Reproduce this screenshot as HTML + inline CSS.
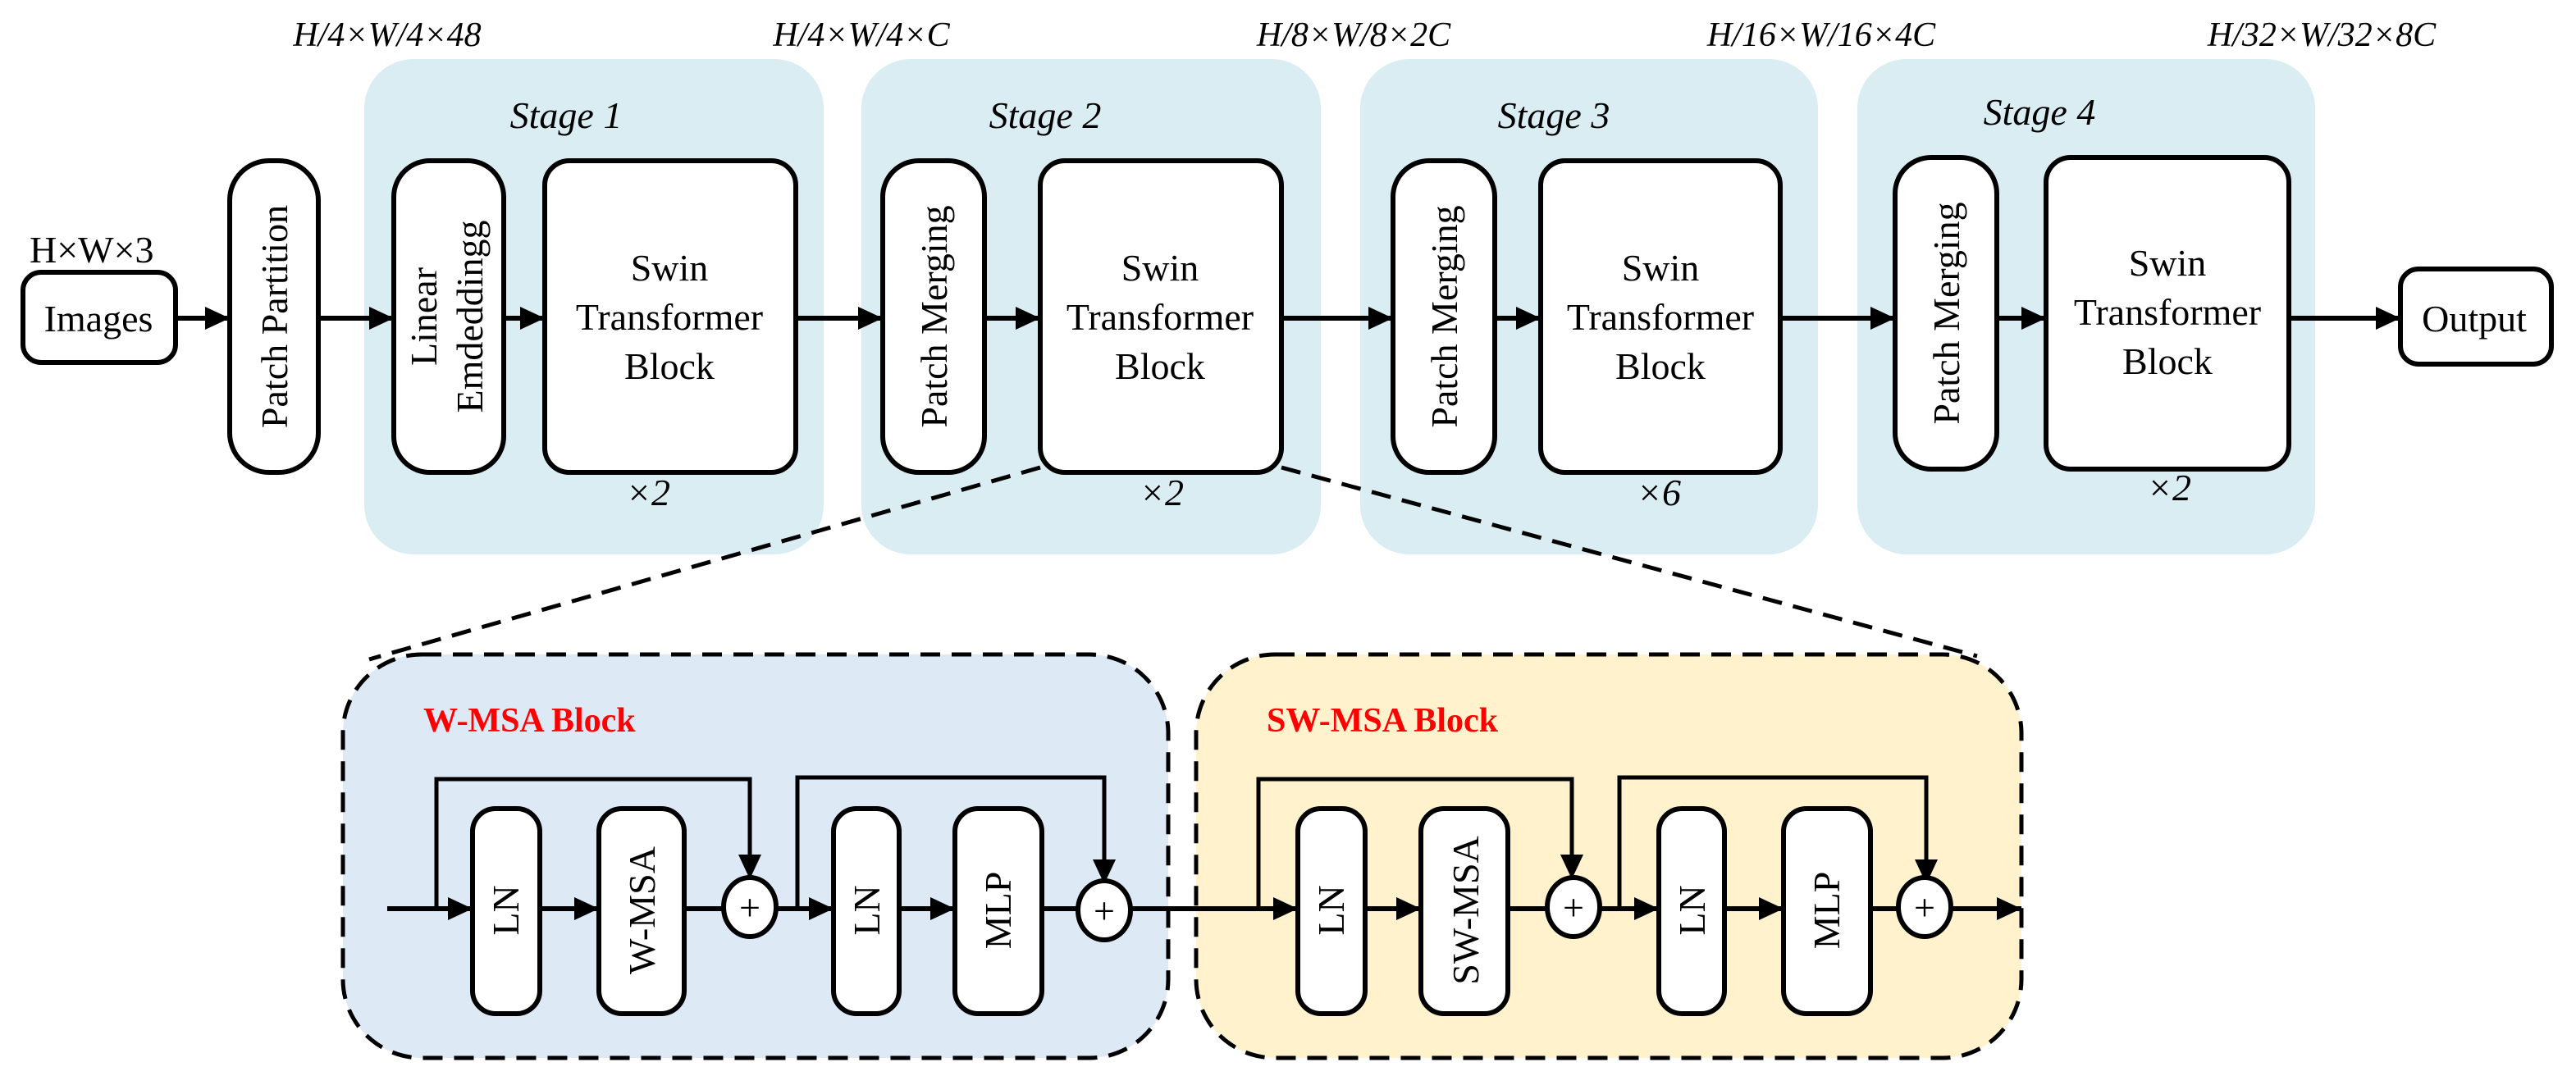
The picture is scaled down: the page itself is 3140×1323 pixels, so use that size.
<!DOCTYPE html>
<html><head><meta charset="utf-8"><style>
html,body{margin:0;padding:0;background:#fff;}
svg{display:block;}
svg text{font-family:"Liberation Serif","DejaVu Serif",serif !important;}
</style></head><body>
<svg width="3140" height="1323" viewBox="0 0 1570 661.5" xmlns="http://www.w3.org/2000/svg" font-family="'Liberation Serif', serif">
<defs>
<marker id="ah2" markerWidth="16" markerHeight="16" refX="15" refY="7" orient="auto" markerUnits="userSpaceOnUse">
<path d="M0,0 L15,7 L0,14 z" fill="#000"/></marker>
</defs>

<g font-size="21" font-style="italic" text-anchor="middle" font-family="'Liberation Serif', serif">
<text x="236" y="28">H/4×W/4×48</text>
<text x="525" y="28">H/4×W/4×C</text>
<text x="825" y="28">H/8×W/8×2C</text>
<text x="1110" y="28">H/16×W/16×4C</text>
<text x="1415" y="28">H/32×W/32×8C</text>
</g>

<g fill="#daedf3">
<rect x="222" y="36" width="280" height="302" rx="30"/>
<rect x="525" y="36" width="280" height="302" rx="30"/>
<rect x="829" y="36" width="279" height="302" rx="30"/>
<rect x="1132" y="36" width="279" height="302" rx="30"/>
</g>
<g font-size="23" font-style="italic" text-anchor="middle" font-family="'Liberation Serif', serif">
<text x="345" y="78">Stage 1</text>
<text x="637" y="78">Stage 2</text>
<text x="947" y="78">Stage 3</text>
<text x="1243" y="76">Stage 4</text>
<text x="395" y="308">×2</text>
<text x="708" y="308">×2</text>
<text x="1011" y="308">×6</text>
<text x="1322" y="305">×2</text>
</g>

<g fill="#fff" stroke="#000" stroke-width="3">
<rect x="14" y="166" width="93" height="55" rx="11"/>
<rect x="140" y="98" width="54" height="190" rx="24"/>
<rect x="240" y="98" width="67" height="190" rx="22"/>
<rect x="332" y="98" width="153" height="190" rx="15"/>
<rect x="538" y="98" width="62" height="190" rx="22"/>
<rect x="634" y="98" width="147" height="190" rx="15"/>
<rect x="849" y="98" width="62" height="190" rx="22"/>
<rect x="939" y="98" width="146" height="190" rx="15"/>
<rect x="1155" y="96" width="62" height="190" rx="22"/>
<rect x="1247" y="96" width="148" height="190" rx="15"/>
<rect x="1463" y="164" width="92" height="58" rx="11"/>
</g>
<g font-size="23" text-anchor="middle" font-family="'Liberation Serif', serif">
<text x="18" y="160" text-anchor="start">H×W×3</text>
<text x="60" y="202">Images</text>
<text x="1508" y="202">Output</text>
<text transform="translate(175,193) rotate(-90)">Patch Partition</text>
<text transform="translate(266,193) rotate(-90)">Linear</text>
<text transform="translate(294,193) rotate(-90)">Emdeddingg</text>
<text transform="translate(577,193) rotate(-90)">Patch Merging</text>
<text transform="translate(888,193) rotate(-90)">Patch Merging</text>
<text transform="translate(1194,191) rotate(-90)">Patch Merging</text>
<text x="408" y="171">Swin</text><text x="408" y="201">Transformer</text><text x="408" y="231">Block</text>
<text x="707" y="171">Swin</text><text x="707" y="201">Transformer</text><text x="707" y="231">Block</text>
<text x="1012" y="171">Swin</text><text x="1012" y="201">Transformer</text><text x="1012" y="231">Block</text>
<text x="1321" y="168">Swin</text><text x="1321" y="198">Transformer</text><text x="1321" y="228">Block</text>
</g>
<g stroke="#000" stroke-width="3" marker-end="url(#ah2)">
<line x1="107" y1="194" x2="140" y2="194"/>
<line x1="194" y1="194" x2="240" y2="194"/>
<line x1="307" y1="194" x2="332" y2="194"/>
<line x1="485" y1="194" x2="538" y2="194"/>
<line x1="600" y1="194" x2="634" y2="194"/>
<line x1="781" y1="194" x2="849" y2="194"/>
<line x1="911" y1="194" x2="939" y2="194"/>
<line x1="1085" y1="194" x2="1155" y2="194"/>
<line x1="1217" y1="194" x2="1247" y2="194"/>
<line x1="1395" y1="194" x2="1463" y2="194"/>
</g>

<g stroke="#000" stroke-width="2.5" stroke-dasharray="12,7" fill="none">
<line x1="634" y1="285" x2="225" y2="402"/>
<line x1="781" y1="285" x2="1205" y2="400"/>
</g>

<rect x="209" y="399" width="503" height="246" rx="48" fill="#dde9f5" stroke="#000" stroke-width="2.5" stroke-dasharray="12,7"/>
<rect x="729" y="399" width="503" height="246" rx="48" fill="#fff2cc" stroke="#000" stroke-width="2.5" stroke-dasharray="12,7"/>
<text x="258" y="446" font-size="21" font-weight="bold" fill="#f00" font-family="'Liberation Serif', serif">W-MSA Block</text>
<text x="772" y="446" font-size="21" font-weight="bold" fill="#f00" font-family="'Liberation Serif', serif">SW-MSA Block</text>

<line x1="236" y1="554" x2="1232" y2="554" stroke="#000" stroke-width="3" marker-end="url(#ah2)"/>

<g>
<g fill="none" stroke="#000" stroke-width="2.5">
<polyline points="266,554 266,475 457,475 457,536" marker-end="url(#ah2)"/>
<polyline points="486,554 486,474 673,474 673,539" marker-end="url(#ah2)"/>
</g>
<g stroke="#000" stroke-width="3" marker-end="url(#ah2)">
<line x1="266" y1="554" x2="288" y2="554"/>
<line x1="329" y1="554" x2="365" y2="554"/>
<line x1="486" y1="554" x2="508" y2="554"/>
<line x1="548" y1="554" x2="582" y2="554"/>
</g>
<g fill="#fff" stroke="#000" stroke-width="3">
<rect x="288" y="493" width="41" height="125" rx="14"/>
<rect x="365" y="493" width="52" height="125" rx="14"/>
<rect x="508" y="493" width="40" height="125" rx="14"/>
<rect x="582" y="493" width="53" height="125" rx="14"/>
<ellipse cx="457" cy="553" rx="16" ry="18"/>
<ellipse cx="673" cy="555" rx="16" ry="18"/>
</g>
<g font-size="23" text-anchor="middle" font-family="'Liberation Serif', serif">
<text x="457" y="561">+</text>
<text x="673" y="563">+</text>
<text transform="translate(316,555) rotate(-90)">LN</text>
<text transform="translate(399,555) rotate(-90)">W-MSA</text>
<text transform="translate(536,555) rotate(-90)">LN</text>
<text transform="translate(616,555) rotate(-90)">MLP</text>
</g>
</g>

<g transform="translate(501,0)">
<g fill="none" stroke="#000" stroke-width="2.5">
<polyline points="266,554 266,475 457,475 457,536" marker-end="url(#ah2)"/>
<polyline points="486,554 486,474 673,474 673,539" marker-end="url(#ah2)"/>
</g>
<g stroke="#000" stroke-width="3" marker-end="url(#ah2)">
<line x1="266" y1="554" x2="290" y2="554"/>
<line x1="331" y1="554" x2="365" y2="554"/>
<line x1="486" y1="554" x2="510" y2="554"/>
<line x1="550" y1="554" x2="586" y2="554"/>
</g>
<g fill="#fff" stroke="#000" stroke-width="3">
<rect x="290" y="493" width="41" height="125" rx="14"/>
<rect x="365" y="493" width="53" height="125" rx="14"/>
<rect x="510" y="493" width="40" height="125" rx="14"/>
<rect x="586" y="493" width="53" height="125" rx="14"/>
<ellipse cx="458" cy="553" rx="16" ry="18"/>
<ellipse cx="672" cy="553" rx="16" ry="18"/>
</g>
<g font-size="23" text-anchor="middle" font-family="'Liberation Serif', serif">
<text x="458" y="561">+</text>
<text x="672" y="561">+</text>
<text transform="translate(318,555) rotate(-90)">LN</text>
<text transform="translate(400,555) rotate(-90)">SW-MSA</text>
<text transform="translate(538,555) rotate(-90)">LN</text>
<text transform="translate(620,555) rotate(-90)">MLP</text>
</g>
</g>
</svg>
</body></html>
